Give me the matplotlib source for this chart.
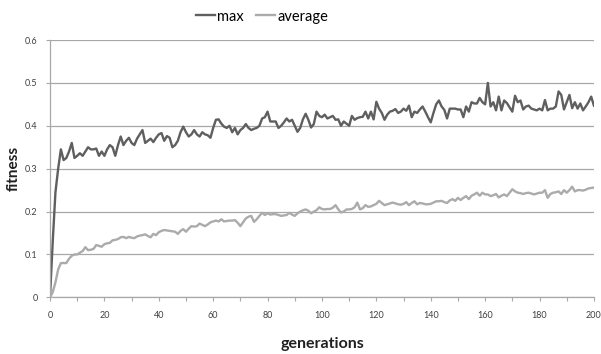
import numpy as np
import matplotlib
matplotlib.use("Agg")
import matplotlib.pyplot as plt

# fitness per generation
max_fitness = [
    0.0, 0.13, 0.245, 0.30, 0.345, 0.32, 0.325, 0.34, 0.36, 0.325,
    0.33, 0.336, 0.33, 0.34, 0.35, 0.345, 0.345, 0.347, 0.33, 0.34,
    0.33, 0.345, 0.355, 0.35, 0.33, 0.355, 0.375, 0.355, 0.365, 0.372,
    0.36, 0.355, 0.37, 0.38, 0.39, 0.36, 0.365, 0.37, 0.362, 0.372,
    0.38, 0.383, 0.365, 0.376, 0.372, 0.35, 0.355, 0.365, 0.385, 0.398,
    0.385, 0.375, 0.38, 0.39, 0.38, 0.375, 0.385, 0.38, 0.378, 0.372,
    0.395, 0.414, 0.415, 0.405, 0.398, 0.395, 0.40, 0.385, 0.395, 0.38,
    0.39, 0.395, 0.404, 0.395, 0.39, 0.393, 0.395, 0.40, 0.417, 0.42,
    0.433, 0.41, 0.41, 0.41, 0.395, 0.40, 0.408, 0.417, 0.41, 0.414,
    0.40, 0.386, 0.395, 0.415, 0.428, 0.414, 0.396, 0.404, 0.433, 0.423,
    0.42, 0.426, 0.417, 0.42, 0.423, 0.414, 0.415, 0.40, 0.41, 0.405,
    0.40, 0.423, 0.414, 0.418, 0.42, 0.421, 0.433, 0.417, 0.433, 0.415,
    0.456, 0.44, 0.43, 0.414, 0.426, 0.433, 0.435, 0.439, 0.43, 0.433,
    0.44, 0.435, 0.447, 0.42, 0.433, 0.43, 0.438, 0.445, 0.433, 0.42,
    0.408, 0.43, 0.45, 0.459, 0.445, 0.437, 0.417, 0.44, 0.44, 0.44,
    0.438, 0.438, 0.42, 0.445, 0.433, 0.455, 0.452, 0.452, 0.465, 0.455,
    0.45, 0.50, 0.445, 0.455, 0.436, 0.468, 0.436, 0.459, 0.453, 0.443,
    0.433, 0.47, 0.455, 0.459, 0.438, 0.445, 0.447, 0.44, 0.438, 0.436,
    0.44, 0.436, 0.46, 0.436, 0.44, 0.44, 0.445, 0.48, 0.472, 0.438,
    0.455, 0.472, 0.441, 0.455, 0.44, 0.452, 0.436, 0.445, 0.455, 0.468,
    0.447,
]

avg_fitness = [
    0.0, 0.012, 0.035, 0.065, 0.08, 0.08, 0.08, 0.09, 0.097, 0.1,
    0.1, 0.104, 0.108, 0.117, 0.11, 0.111, 0.113, 0.122, 0.12, 0.118,
    0.124, 0.126, 0.127, 0.133, 0.134, 0.136, 0.14, 0.141, 0.138, 0.141,
    0.139, 0.138, 0.142, 0.144, 0.145, 0.147, 0.143, 0.14, 0.148, 0.145,
    0.152, 0.155, 0.157, 0.156, 0.155, 0.154, 0.153, 0.148, 0.155, 0.159,
    0.153, 0.16, 0.166, 0.165, 0.166, 0.172, 0.169, 0.166, 0.17, 0.175,
    0.177, 0.179, 0.177, 0.182, 0.177, 0.178, 0.179, 0.179, 0.18, 0.174,
    0.166, 0.175, 0.184, 0.188, 0.19, 0.176, 0.182, 0.19, 0.197, 0.192,
    0.196, 0.193, 0.194, 0.194, 0.192, 0.19, 0.191, 0.192, 0.197, 0.193,
    0.19, 0.196, 0.2, 0.203, 0.205, 0.202, 0.196, 0.2, 0.203, 0.21,
    0.206, 0.205, 0.206, 0.206, 0.209, 0.215, 0.205, 0.198, 0.2, 0.205,
    0.205, 0.206, 0.21, 0.221, 0.205, 0.208, 0.215, 0.211, 0.212, 0.215,
    0.218, 0.225, 0.22, 0.215, 0.217, 0.219, 0.221, 0.219, 0.217, 0.216,
    0.218, 0.222, 0.215, 0.22, 0.224, 0.217, 0.22, 0.219, 0.217, 0.217,
    0.218, 0.221, 0.224, 0.224, 0.225, 0.222, 0.22, 0.226, 0.229, 0.225,
    0.232, 0.227, 0.232, 0.236, 0.229, 0.237, 0.24, 0.244, 0.237, 0.244,
    0.24, 0.24, 0.236, 0.238, 0.241, 0.233, 0.237, 0.24, 0.236, 0.244,
    0.252, 0.247, 0.244, 0.243, 0.241, 0.243, 0.244, 0.242, 0.24, 0.242,
    0.244, 0.244, 0.25, 0.232, 0.241, 0.244, 0.245, 0.247, 0.241, 0.25,
    0.244, 0.25, 0.258, 0.247, 0.25, 0.25, 0.249, 0.251, 0.254, 0.255,
    0.256,
]

generations = np.arange(len(max_fitness))
x_ticks = [0, 20, 40, 60, 80, 100, 120, 140, 160, 180, 200]
x_minor_ticks = [10, 30, 50, 70, 90, 110, 130, 150, 170, 190]
y_ticks = [0, 0.1, 0.2, 0.3, 0.4, 0.5, 0.6]
y_tick_labels = ["0", "0.1", "0.2", "0.3", "0.4", "0.5", "0.6"]

plt.rcParams["font.family"] = ["Lato", "DejaVu Sans"]

fig = plt.figure(figsize=(6.01, 3.54), dpi=100)
ax = fig.add_axes([0.0832, 0.160, 0.905, 0.727])

ax.plot(generations, max_fitness, color="#5f5f5f", lw=1.7, label="max")
ax.plot(generations, avg_fitness, color="#ababab", lw=1.7, label="average")

ax.set_xlim(0, 200)
ax.set_ylim(0, 0.6)
ax.set_xticks(x_ticks)
ax.set_xticks(x_minor_ticks, minor=True)
ax.set_yticks(y_ticks)
ax.set_yticklabels(y_tick_labels)

ax.grid(axis="y", color="#a8a8a8", lw=0.9)
ax.set_axisbelow(True)
for side in ["top", "right"]:
    ax.spines[side].set_visible(False)
for side in ["left", "bottom"]:
    ax.spines[side].set_color("#a8a8a8")
    ax.spines[side].set_linewidth(0.9)

ax.tick_params(axis="both", which="both", colors="#a8a8a8", labelcolor="#404040",
               labelsize=6.5, length=3, width=0.8)
ax.tick_params(axis="x", pad=7)
ax.tick_params(axis="y", pad=6)

ax.set_xlabel("generations", fontsize=11.5, fontweight="bold", color="#202020", labelpad=12)
ax.set_ylabel("fitness", fontsize=11, fontweight="bold", color="#202020", labelpad=3)

fig.legend(loc="upper center", bbox_to_anchor=(262 / 601, 1.01), ncol=2,
           frameon=False, fontsize=10.5, handlelength=1.3, handletextpad=0.2,
           columnspacing=0.8)

fig.savefig("out.png", dpi=100)
